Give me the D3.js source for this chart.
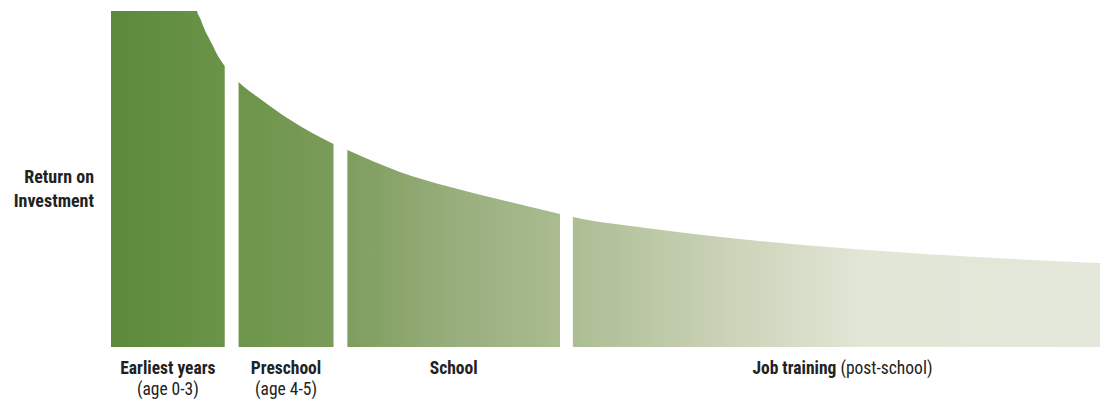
<!DOCTYPE html>
<html>
<head>
<meta charset="utf-8">
<script src="https://cdn.jsdelivr.net/npm/d3@7"></script>
<style>
  body { margin: 0; background: #fff; }
  svg text { font-family: "Liberation Sans Narrow", "Roboto Condensed", "Arial Narrow", Roboto, sans-serif; fill: #222; }
</style>
</head>
<body>
<div id="chart"></div>
<script>
// curve of return on investment (x: abstract life stage units 0-100, y: relative return 0-100)
var curveX = [0, 8, 8.49, 8.7, 9.0, 9.5, 10.21, 10.82, 11.5, 12.9, 15.1, 18.1, 22.5, 23.9, 29.2, 34.3, 39.3, 45.4, 46.7, 54.5, 59.6, 69.7, 79.8, 89.9, 100];
var curveY = [140, 115, 103.3, 100, 97.9, 94.3, 90.2, 86.6, 83.6, 78.9, 73.8, 67.6, 60.4, 58.6, 52.1, 47.6, 43.9, 39.6, 38.7, 35.3, 33.4, 30.4, 28.2, 26.4, 25];

// stages along the curve
var stageNames = ["Earliest years", "Preschool", "School", "Job training"];
var stageNotes = ["(age 0-3)", "(age 4-5)", "", "(post-school)"];
var stageStart = [0, 12.9, 23.9, 46.7];
var stageEnd = [11.5, 22.5, 45.4, 100];

var width = 1100,
  height = 400,
  marginLeft = 111,
  marginRight = 1100,
  marginTop = 11,
  baseY = 347;

var x = d3.scaleLinear().domain([0, 100]).range([marginLeft, marginRight]);
var y = d3.scaleLinear().domain([0, 100]).range([baseY, marginTop]);

var svg = d3.select("#chart").append("svg")
  .attr("width", width)
  .attr("height", height);

var defs = svg.append("defs");

var grad = defs.append("linearGradient")
  .attr("id", "roiGrad")
  .attr("gradientUnits", "userSpaceOnUse")
  .attr("x1", x(0)).attr("x2", x(100))
  .attr("y1", 0).attr("y2", 0);

var stops = [
  [0, "#5b8a3a"],
  [0.11, "#6a9347"],
  [0.23, "#7b9c5a"],
  [0.34, "#97ad7b"],
  [0.45, "#a9bb8f"],
  [0.6, "#c6cfb2"],
  [0.76, "#e2e6d6"],
  [1, "#e4e8db"]
];
grad.selectAll("stop").data(stops).enter().append("stop")
  .attr("offset", function(d) { return d[0]; })
  .attr("stop-color", function(d) { return d[1]; });

var data = curveX.map(function(v, i) { return { x: v, y: curveY[i] }; });

var area = d3.area()
  .curve(d3.curveMonotoneX)
  .x(function(d) { return x(d.x); })
  .y0(y(0))
  .y1(function(d) { return y(d.y); });

// one clip per stage, also cutting the top of the curve off
stageNames.forEach(function(name, i) {
  defs.append("clipPath").attr("id", "clip" + i)
    .append("rect")
    .attr("x", x(stageStart[i]))
    .attr("y", y(100))
    .attr("width", x(stageEnd[i]) - x(stageStart[i]))
    .attr("height", y(0) - y(100));
});

svg.selectAll(".stage")
  .data(stageNames)
  .enter().append("path")
  .attr("class", "stage")
  .attr("clip-path", function(d, i) { return "url(#clip" + i + ")"; })
  .attr("d", area(data))
  .style("fill", "url(#roiGrad)");

// stage labels
var lab = svg.selectAll(".lab")
  .data(stageNames)
  .enter().append("text")
  .attr("class", "lab")
  .attr("text-anchor", "middle")
  .attr("font-size", 17.5)
  .attr("x", function(d, i) { return x((stageStart[i] + stageEnd[i]) / 2); })
  .attr("y", 374);

lab.append("tspan")
  .attr("font-weight", "bold")
  .text(function(d) { return d; });

lab.each(function(d, i) {
  var t = d3.select(this);
  if (i == 3) {
    t.append("tspan").text(" " + stageNotes[i]);
    t.attr("dx", 6);
  } else if (stageNotes[i]) {
    svg.append("text")
      .attr("text-anchor", "middle")
      .attr("font-size", 17.5)
      .attr("x", x((stageStart[i] + stageEnd[i]) / 2))
      .attr("y", 395)
      .text(stageNotes[i]);
  }
});

// y axis title
var yt = svg.append("text")
  .attr("text-anchor", "end")
  .attr("font-size", 18)
  .attr("font-weight", "bold")
  .attr("x", 94)
  .attr("y", 183);
yt.append("tspan").attr("x", 94).text("Return on");
yt.append("tspan").attr("x", 94).attr("dy", 24).text("Investment");
</script>
</body>
</html>
